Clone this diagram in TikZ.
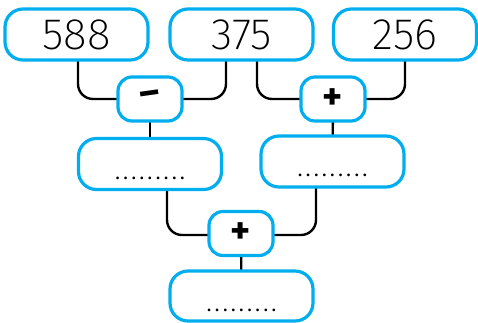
\documentclass[tikz,border=0pt]{standalone}
\usepackage{fontspec}
\setsansfont{Fira Sans ExtraLight}
\newfontfamily\opfont{Fira Sans Bold}
\newfontfamily\dotfont[LetterSpace=30]{Fira Sans Bold}
\definecolor{boxblue}{RGB}{0,174,239}
\tikzset{
  numbox/.style={draw=boxblue,line width=3.2pt,rounded corners=18pt,fill=white,
    minimum width=143pt,minimum height=51pt,inner sep=0pt,
    font=\sffamily\fontsize{44}{44}\selectfont},
  ansbox/.style={numbox,text height=0pt,text depth=0pt,
    font=\dotfont\fontsize{15}{15}\selectfont},
  opbox/.style={draw=boxblue,line width=3.2pt,rounded corners=14pt,fill=white,
    minimum width=64pt,minimum height=44pt,inner sep=0pt,
    font=\opfont\fontsize{38}{38}\selectfont},
  link/.style={line width=2.4pt,rounded corners=15pt}
}
\begin{document}
\begin{tikzpicture}[x=1pt,y=-1pt]
\useasboundingbox (0,0) rectangle (478,322);
% links first, boxes on top
\coordinate (p1) at (76.5,34.5);
\coordinate (p2) at (241.5,34.5);
\coordinate (p3) at (405,34.5);
\coordinate (q1) at (150,99);
\coordinate (q2) at (333,99);
\coordinate (r1) at (150,164);
\coordinate (r2) at (332.5,161.5);
\coordinate (s) at (241,233.5);
\coordinate (t) at (241.5,296);
\draw[link] ([xshift=1.5pt]p1) |- (q1);
\draw[link] ([xshift=-15.5pt]p2) |- (q1);
\draw[link] ([xshift=15.5pt]p2) |- (q2);
\draw[link] (p3) |- (q2);
\draw[link] (q1) -- (r1);
\draw[link] (q2) -- (r2);
\draw[link] ([xshift=17pt]r1) |- ([yshift=-1.5pt]s);
\draw[link] ([xshift=-16.5pt]r2) |- ([yshift=-1.5pt]s);
\draw[link] (s) -- (t);
\node[numbox] (a) at (p1) {588};
\node[numbox] (b) at (p2) {375};
\node[numbox] (c) at (p3) {256};
\node[opbox] (minus) at (q1) {\raisebox{1pt}{\rotatebox{8}{\textendash}}};
\node[opbox] (plus) at (q2) {+};
\node[ansbox] (diff) at (r1) {\raisebox{-15pt}{.........}};
\node[ansbox] (sum) at (r2) {\raisebox{-15pt}{.........}};
\node[opbox] (total) at (s) {+};
\node[ansbox,minimum height=50pt] (result) at (t) {\raisebox{-15pt}{.........}};
\end{tikzpicture}
\end{document}
